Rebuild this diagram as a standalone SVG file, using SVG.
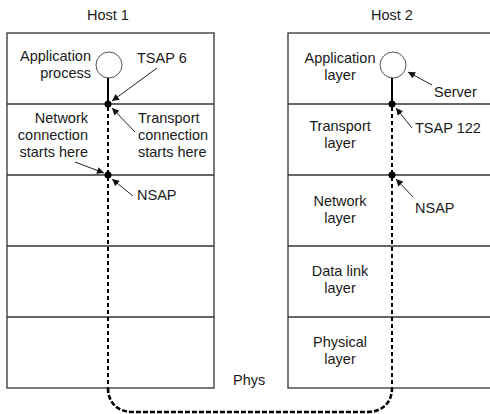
<svg xmlns="http://www.w3.org/2000/svg" width="490" height="414" viewBox="0 0 490 414">
<style>
text{font-family:"Liberation Sans",Arial,sans-serif;font-size:14.5px;fill:#1a1a1a}
.box{fill:none;stroke:#333;stroke-width:1.3}
.sep{stroke:#333;stroke-width:1.3}
.ap{fill:#fff;stroke:#555;stroke-width:1}
.solid{stroke:#000;stroke-width:2}
.dash{fill:none;stroke:#000;stroke-width:2;stroke-dasharray:4 3}
.bot{fill:none;stroke:#000;stroke-width:2.6;stroke-dasharray:5 2}
.dot{fill:#000}
.arr{stroke:#222;stroke-width:1;marker-end:url(#ah)}
.m{text-anchor:middle}
.r{text-anchor:end}
</style>
<defs>
<marker id="ah" viewBox="0 0 10 10" refX="10" refY="5" markerWidth="8" markerHeight="7" orient="auto" markerUnits="userSpaceOnUse">
<path d="M0,0 L10,5 L0,10 z" fill="#111"/>
</marker>
</defs>
<g id="host1">
<text class="m" x="108" y="20">Host 1</text>
<rect class="box" x="7" y="33" width="207" height="355"/>
<line class="sep" x1="7" y1="104" x2="214" y2="104"/>
<line class="sep" x1="7" y1="175" x2="214" y2="175"/>
<line class="sep" x1="7" y1="246" x2="214" y2="246"/>
<line class="sep" x1="7" y1="317" x2="214" y2="317"/>
<text class="r" x="91" y="61">Application</text>
<text class="r" x="91" y="77.5">process</text>
<circle class="ap" cx="109" cy="65" r="13"/>
<text x="137" y="63">TSAP 6</text>
<text class="r" x="88" y="123">Network</text>
<text class="r" x="88" y="140">connection</text>
<text class="r" x="88" y="157">starts here</text>
<text x="138" y="123">Transport</text>
<text x="138" y="140">connection</text>
<text x="138" y="157">starts here</text>
<text x="137" y="200">NSAP</text>
</g>
<g id="host2">
<text class="m" x="392" y="20">Host 2</text>
<rect class="box" x="288" y="33" width="210" height="355"/>
<line class="sep" x1="288" y1="104" x2="490" y2="104"/>
<line class="sep" x1="288" y1="175" x2="490" y2="175"/>
<line class="sep" x1="288" y1="246" x2="490" y2="246"/>
<line class="sep" x1="288" y1="317" x2="490" y2="317"/>
<text class="m" x="340" y="63">Application</text>
<text class="m" x="340" y="79.5">layer</text>
<circle class="ap" cx="393" cy="65" r="13"/>
<text x="434" y="97">Server</text>
<text class="m" x="340" y="131">Transport</text>
<text class="m" x="340" y="147.5">layer</text>
<text x="415" y="133">TSAP 122</text>
<text class="m" x="340" y="206">Network</text>
<text class="m" x="340" y="222.5">layer</text>
<text x="415" y="213">NSAP</text>
<text class="m" x="340" y="276">Data link</text>
<text class="m" x="340" y="292.5">layer</text>
<text class="m" x="340" y="347">Physical</text>
<text class="m" x="340" y="363.5">layer</text>
</g>
<g id="phys">
<text x="233" y="385">Phys</text>
</g>
<g id="connectors">
<line class="solid" x1="108" y1="78" x2="108" y2="104"/>
<line class="solid" x1="392" y1="78" x2="392" y2="104"/>
<line class="dash" x1="108" y1="107" x2="108" y2="388"/>
<line class="dash" x1="392" y1="107" x2="392" y2="388"/>
<path class="bot" d="M108,388 C108,403 118,412 133,412 L367,412 C382,412 392,403 392,388"/>
<circle class="dot" cx="108" cy="104" r="3.5"/>
<circle class="dot" cx="108" cy="175" r="3.5"/>
<circle class="dot" cx="392" cy="104" r="3.5"/>
<circle class="dot" cx="392" cy="175" r="3.5"/>
<line class="arr" x1="157" y1="68" x2="112" y2="101"/>
<line class="arr" x1="135" y1="132" x2="112" y2="108"/>
<line class="arr" x1="75" y1="162" x2="104" y2="173"/>
<line class="arr" x1="133" y1="196" x2="112" y2="179"/>
<line class="arr" x1="432" y1="85" x2="408" y2="72"/>
<line class="arr" x1="412" y1="128" x2="396" y2="108"/>
<line class="arr" x1="413" y1="197" x2="396" y2="179"/>
</g>
</svg>
